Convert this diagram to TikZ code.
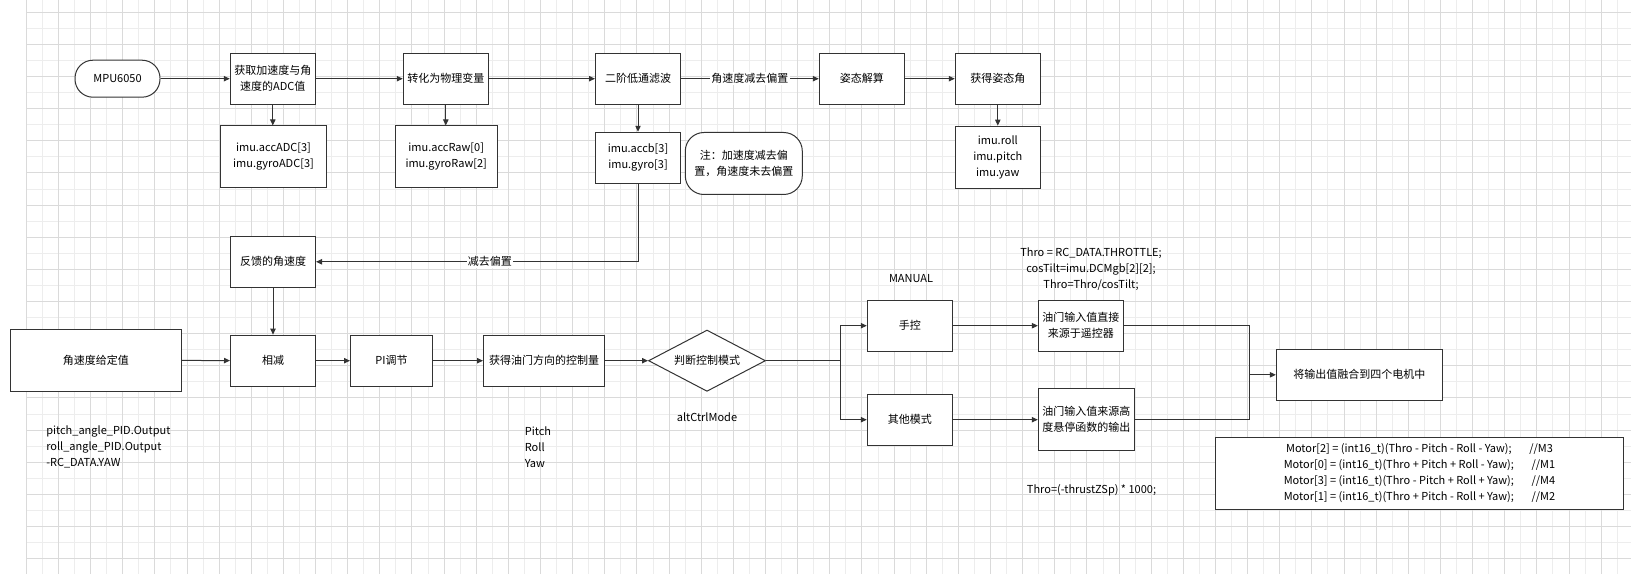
\documentclass[tikz,border=0pt]{standalone}
\usepackage{fontspec}
\setmainfont{Noto Sans CJK SC}
\usetikzlibrary{arrows.meta,shapes.geometric}

\definecolor{gridlight}{HTML}{EDEDED}
\definecolor{griddark}{HTML}{DADADA}
\definecolor{edgegray}{HTML}{333333}

\tikzset{
  box/.style={draw=edgegray, line width=0.75pt, fill=white, align=center, inner sep=2pt,
    minimum width=63.75pt, minimum height=38.25pt},
  varbox/.style={box, minimum height=46.5pt},
  flow/.style={draw=edgegray, line width=0.75pt, -{Triangle[length=4.5pt,width=4pt]}},
  wire/.style={draw=edgegray, line width=0.75pt},
  tag/.style={fill=white, inner sep=1pt},
  freetext/.style={inner sep=0pt, align=left},
}

\begin{document}
\begin{tikzpicture}[x=0.75pt, y=-0.75pt, font=\fontsize{8.25pt}{12pt}\selectfont]
		%%%%% START %%%%%
		\useasboundingbox (0,0) rectangle (1631,574);
		\fill[white] (0,0) rectangle (1631,574);
		
		% background grid
		\foreach \i in {1,3,...,99} \draw[gridlight, line width=0.75pt] ({26.3+16.07*\i},0) -- ++(0,574);
		\foreach \j in {1,3,...,33} \draw[gridlight, line width=0.75pt] (26.3,{12.3+16.07*\j}) -- (1631,{12.3+16.07*\j});
		\foreach \i in {0,2,...,98} \draw[griddark, line width=0.75pt] ({26.3+16.07*\i},0) -- ++(0,574);
		\foreach \j in {0,2,...,34} \draw[griddark, line width=0.75pt] (26.3,{12.3+16.07*\j}) -- (1631,{12.3+16.07*\j});
		
		% attitude chain
		\node[box, minimum height=27.75pt, rounded corners=13.5pt] (mpu) at (117.5,78.7) {MPU6050};
		\node[box] (adc) at (272.8,78.7) {获取加速度与角\\速度的ADC值};
		\node[box] (phys) at (445.8,78.7) {转化为物理变量};
		\node[box] (lpf) at (638,78.7) {二阶低通滤波};
		\node[box] (att) at (861.8,78.7) {姿态解算};
		\node[box] (angle) at (997.8,78.7) {获得姿态角};
		
		\node[varbox, minimum width=79.5pt] (adcvar) at (273.5,157) {imu.accADC[3]\\imu.gyroADC[3]};
		\node[varbox, minimum width=76.5pt] (rawvar) at (446.2,157) {imu.accRaw[0]\\imu.gyroRaw[2]};
		\node[box] (accb) at (638,157.8) {imu.accb[3]\\imu.gyro[3]};
		\node[varbox, minimum width=87.75pt, rounded corners=14pt] (note) at (743.8,163.5) {注：加速度减去偏\\置，角速度未去偏置};
		\node[varbox] (euler) at (997.8,157.2) {imu.roll\\imu.pitch\\imu.yaw};
		
		\draw[flow] (mpu) -- (adc);
		\draw[flow] (adc) -- (phys);
		\draw[flow] (phys) -- (lpf);
		\draw[flow] (lpf) -- node[tag] (lbias) {角速度减去偏置} (att);
		\draw[flow] (att) -- (angle);
		\draw[flow] (adc.south) -- (adc.south |- adcvar.north);
		\draw[flow] (phys.south) -- (phys.south |- rawvar.north);
		\draw[flow] (lpf) -- (accb);
		\draw[flow] (angle) -- (euler);
		
		% rate loop
		\node[box] (fb) at (273,261.8) {反馈的角速度};
		\node[box, minimum width=128.25pt, minimum height=46.5pt] (setp) at (95.8,360.2) {角速度给定值};
		\node[box] (sub) at (273,360.7) {相减};
		\node[box, minimum width=61.5pt] (pi) at (391.5,360.7) {PI调节};
		\node[box, minimum width=90.75pt] (thr) at (544,360.7) {获得油门方向的控制量};
		\node[draw=edgegray, line width=0.75pt, fill=white, diamond, aspect=1.9, inner sep=0pt,
		  minimum width=87.75pt, minimum height=46pt] (mode) at (707,360.7) {判断控制模式};
		
		\draw[flow] (accb.south) |- node[tag, pos=0.73] (lsub) {减去偏置} (fb.east);
		\draw[flow] (fb) -- (sub);
		\draw[flow] (setp) -- (sub);
		\draw[flow] (sub) -- (pi);
		\draw[flow] (pi) -- (thr);
		\draw[flow] (thr) -- (mode);
		
		\node[freetext, anchor=west] (setvars) at (46,447) {pitch\_angle\_PID.Output\\roll\_angle\_PID.Output\\-RC\_DATA.YAW};
		\node[freetext, anchor=west] (axes) at (524.6,447) {Pitch\\Roll\\Yaw};
		\node[freetext] (modevar) at (707,416.7) {altCtrlMode};
		
		% throttle branch
		\node[box] (manual) at (909.8,325.7) {手控};
		\node[box] (other) at (909.8,419.7) {其他模式};
		\node[box] (direct) at (1080.9,325.7) {油门输入值直接\\来源于遥控器};
		\node[varbox, minimum width=72pt] (hover) at (1086.3,419.3) {油门输入值来源高\\度悬停函数的输出};
		\node[box, minimum width=124.5pt] (fuse) at (1359.4,374.8) {将输出值融合到四个电机中};
		\node[box, minimum width=305.7pt, minimum height=53.8pt] (motor) at (1419.5,473.2)
		  {Motor[2] = (int16\_t)(Thro - Pitch - Roll - Yaw);\hspace{1.6em}//M3\\
		   Motor[0] = (int16\_t)(Thro + Pitch + Roll - Yaw);\hspace{1.6em}//M1\\
		   Motor[3] = (int16\_t)(Thro - Pitch + Roll + Yaw);\hspace{1.6em}//M4\\
		   Motor[1] = (int16\_t)(Thro + Pitch - Roll + Yaw);\hspace{1.6em}//M2};
		
		\node[freetext] (manlabel) at (911,279) {MANUAL};
		\node[freetext, align=center] (throcalc) at (1091,269.2) {Thro = RC\_DATA.THROTTLE;\\cosTilt=imu.DCMgb[2][2];\\Thro=Thro/cosTilt;};
		\node[freetext] (throhover) at (1091.5,490.7) {Thro=(-thrustZSp) * 1000;};
		
		\coordinate (split) at (840.4,360.7);
		\coordinate (merge) at (1249.5,374.8);
		\draw[wire] (mode.east) -- (split);
		\draw[flow] (split) |- (manual.west);
		\draw[flow] (split) |- (other.west);
		\draw[flow] (manual) -- (direct);
		\draw[flow] (other.east) -- (other.east -| hover.west);
		\draw[wire] (direct.east) -| (merge);
		\draw[wire] (hover.east) -| (merge);
		\draw[flow] (merge) -- (fuse.west);
		%%%%% END %%%%%
	\end{tikzpicture}
\end{document}
